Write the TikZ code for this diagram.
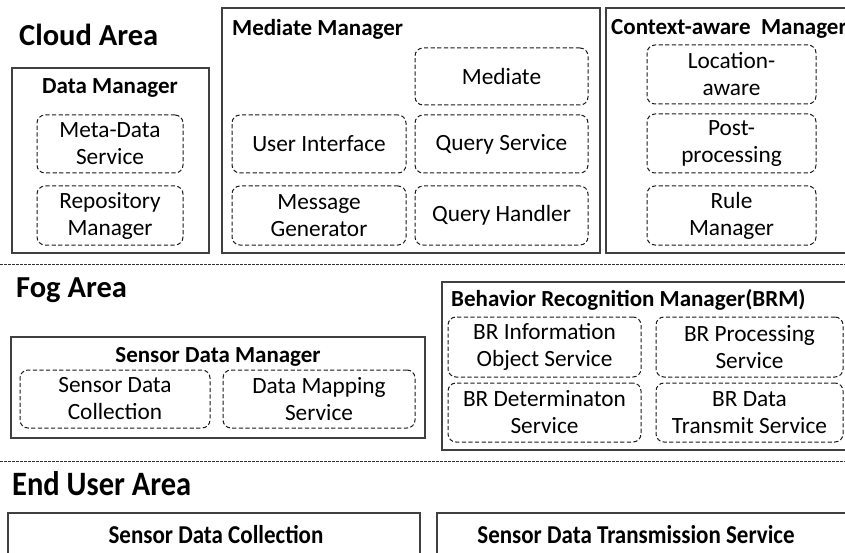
\documentclass[tikz,border=0pt]{standalone}
\usepackage{fontspec}
\setmainfont{Carlito}
\begin{document}
\begin{tikzpicture}[x=1pt,y=-1pt,
  area/.style={font=\fontsize{30.5}{32}\selectfont\bfseries, anchor=west, inner sep=0pt},
  areatall/.style={area, yscale=1.12},
  box/.style={draw=black!75, line width=1.1pt, inner sep=0pt},
  title/.style={font=\fontsize{23}{27}\selectfont\bfseries, inner sep=0pt},
  svc/.style={draw=black!90, line width=1pt, dash pattern=on 4.2pt off 2.4pt, rounded corners=8pt,
     align=center, font=\fontsize{23.3}{27}\selectfont, inner sep=0pt},
  sep/.style={draw=black!80, line width=0.8pt, dash pattern=on 2.5pt off 1.5pt}
]
\useasboundingbox (0,0) rectangle (845,553);
\clip (0,0) rectangle (845,553);

% Cloud area
\node[area] (cloud) at (19,35) {Cloud Area};

\node[box, minimum width=197pt, minimum height=185pt] (dm) at (110.5,160.5) {};
\node[title] (dmt) at (110,88) {Data Manager};
\node[svc, minimum width=146pt, minimum height=58pt] (meta) at (110,144) {Meta-Data\\Service};
\node[svc, minimum width=146pt, minimum height=59pt] (repo) at (110,215.5) {Repository\\Manager};

\node[box, minimum width=378pt, minimum height=245pt] (mm) at (411,130.5) {};
\node[title, anchor=west] (mmt) at (232,29) {Mediate Manager};
\node[svc, minimum width=173pt, minimum height=57pt] (med) at (501.5,76.5) {Mediate};
\node[svc, minimum width=174pt, minimum height=58pt] (ui) at (319,144) {User Interface};
\node[svc, minimum width=173pt, minimum height=58pt] (qs) at (501.5,144) {Query Service};
\node[svc, minimum width=174pt, minimum height=59pt] (mg) at (319,215.5) {Message\\Generator};
\node[svc, minimum width=173pt, minimum height=59pt] (qh) at (501.5,215.5) {Query Handler};

\node[box, minimum width=254pt, minimum height=245pt] (cm) at (733,130.5) {};
\node[title, anchor=west] (cmt) at (611,29) {Context-aware\ \ Manager};
\node[svc, minimum width=169pt, minimum height=59pt] (loc) at (731.5,74.5) {Location-\\aware};
\node[svc, minimum width=169pt, minimum height=59pt] (post) at (731.5,143.5) {Post-\\processing};
\node[svc, minimum width=169pt, minimum height=59pt] (rule) at (731.5,215.5) {Rule\\Manager};

\coordinate (s1a) at (0,264);
\coordinate (s1b) at (845,264);
\draw[sep] (s1a) -- (s1b);

% Fog area
\node[area] (fog) at (16,290) {Fog Area};

\node[box, minimum width=414pt, minimum height=101pt] (sdm) at (218,387.5) {};
\node[title] (sdmt) at (218,357) {Sensor Data Manager};
\node[svc, minimum width=190pt, minimum height=58pt] (sdc) at (115,399) {Sensor Data\\Collection};
\node[svc, minimum width=192pt, minimum height=58pt] (dms) at (319,399) {Data Mapping\\Service};

\node[box, minimum width=418pt, minimum height=168pt] (brm) at (651,366) {};
\node[title, anchor=west] (brmt) at (451,300) {Behavior Recognition Manager(BRM)};
\node[svc, minimum width=193pt, minimum height=60pt] (bri) at (544.5,347) {BR Information\\Object Service};
\node[svc, minimum width=187pt, minimum height=60pt] (brp) at (749.5,347) {BR Processing\\Service};
\node[svc, minimum width=193pt, minimum height=59pt] (brd) at (544.5,412.5) {BR Determinaton\\Service};
\node[svc, minimum width=187pt, minimum height=59pt] (brt) at (749.5,412.5) {BR Data\\Transmit Service};

\coordinate (s2a) at (0,461);
\coordinate (s2b) at (845,461);
\draw[sep] (s2a) -- (s2b);

% End user area
\node[areatall] (end) at (12,484) {End User Area};
\node[box, minimum width=412pt, minimum height=90pt] (eu1) at (214,558) {};
\node[title, yscale=1.12] (eu1t) at (216,535) {Sensor Data Collection};
\node[box, minimum width=423pt, minimum height=90pt] (eu2) at (648.5,558) {};
\node[title, yscale=1.12] (eu2t) at (636,535) {Sensor Data Transmission Service};
\end{tikzpicture}
\end{document}
